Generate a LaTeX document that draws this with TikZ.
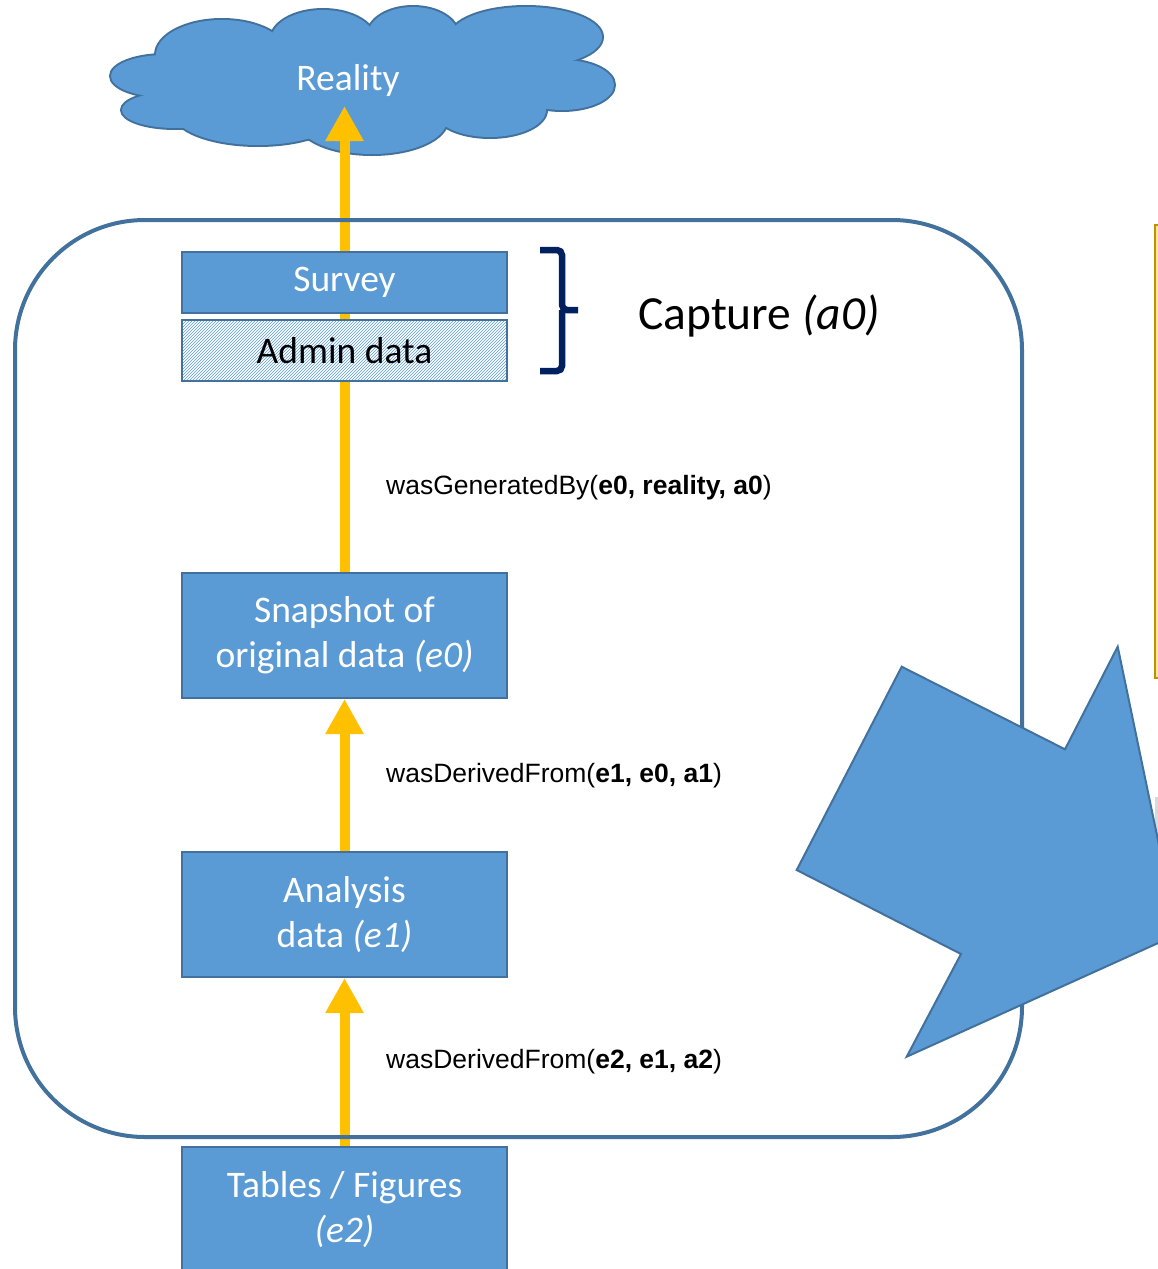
\documentclass[tikz,border=0pt]{standalone}
\usepackage{fontspec}
\setmainfont{Carlito}
\newfontfamily\arialfont{Liberation Sans}
\usetikzlibrary{arrows.meta,patterns}
\definecolor{boxblue}{HTML}{5B9BD5}
\definecolor{edgeblue}{HTML}{41719C}
\definecolor{flowgold}{HTML}{FFC000}
\definecolor{bracenavy}{HTML}{002060}
\definecolor{noteyellow}{HTML}{FFE699}
\definecolor{notegold}{HTML}{BF9000}
\newcommand{\boxfont}{\fontsize{37.5}{45}\selectfont}
\newcommand{\relfont}{\arialfont\fontsize{26.5}{30}\selectfont}
\pgfdeclarelayer{cloudlayer}
\pgfdeclarelayer{flowlayer}
\pgfsetlayers{cloudlayer,flowlayer,main}

\begin{document}
\begin{tikzpicture}[x=1pt,y=-1pt,
		block/.style={draw=edgeblue, line width=2pt, minimum width=325pt, align=center, inner sep=0pt, font=\boxfont},
		entity/.style={block, fill=boxblue, text=white, minimum height=125pt},
		relation/.style={anchor=west, inner sep=0pt, font=\relfont},
		flow/.style={draw=flowgold, line width=10pt, -{Triangle[width=36pt,length=35pt]}},
		frame/.style={draw=edgeblue, line width=4pt, rounded corners=130pt},
		bracket/.style={draw=bracenavy, line width=6.5pt, rounded corners=5pt}]
	\useasboundingbox (0,0) rectangle (1158,1269);
	\begin{scope}
		\clip (0,0) rectangle (1158,1269);
		% reality
		\begin{pgfonlayer}{cloudlayer}
			\foreach \cx/\cy/\rx/\ry in {366/80/200/50, 165/76/54/21, 175/110/53/18, 258/112/85/33, 372/120/75/34, 490/110/56/27, 562/85/52/25, 526/37/76/30, 413/35/45/28, 323/40/52/30, 222/55/66/35}
				\draw[edgeblue, line width=4pt] (\cx,\cy) ellipse [x radius=\rx, y radius=\ry];
			\foreach \cx/\cy/\rx/\ry in {366/80/200/50, 165/76/54/21, 175/110/53/18, 258/112/85/33, 372/120/75/34, 490/110/56/27, 562/85/52/25, 526/37/76/30, 413/35/45/28, 323/40/52/30, 222/55/66/35}
				\fill[boxblue] (\cx,\cy) ellipse [x radius=\rx, y radius=\ry];
			\node[text=white, font=\boxfont, inner sep=0pt] (reality) at (348,81) {Reality};
		\end{pgfonlayer}
		\coordinate (realitytip) at (344.5,106);
		% capture
		\node[entity, minimum height=61pt] (survey) at (344.5,282.5) {Survey};
		\node[block, minimum height=61pt, preaction={fill=white}, pattern=north east lines, pattern color=boxblue] (admin) at (344.5,350.5) {Admin data};
		\draw[bracket] (540,250) -| (562,310) -- (578,310) (562,310) |- (540,371);
		\node[anchor=west, inner sep=0pt, font=\fontsize{47.5}{50}\selectfont] (capture) at (638,316) {Capture \textit{(a0)}};
		% entities
		\node[entity] (e0) at (344.5,635.5) {Snapshot of\\original data \textit{(e0)}};
		\node[entity] (e1) at (344.5,914.5) {Analysis\\data \textit{(e1)}};
		\node[entity] (e2) at (344.5,1209.5) {Tables / Figures\\\textit{(e2)}};
		\node[relation] (genby) at (386,488) {wasGeneratedBy(\textbf{e0, reality, a0})};
		\node[relation] (derA) at (386,776) {wasDerivedFrom(\textbf{e1, e0, a1})};
		\node[relation] (derB) at (386,1062) {wasDerivedFrom(\textbf{e2, e1, a2})};
		\begin{pgfonlayer}{flowlayer}
			\draw[flow] (e2.north) -- (e1.south);
			\draw[flow] (e1.north) -- (e0.south);
			\draw[flow] (e0.north) -- (realitytip);
		\end{pgfonlayer}
		\draw[frame] (15,220) rectangle (1022,1137);
		% right side
		\draw[draw=notegold, fill=noteyellow, line width=2.5pt] (1155,225) rectangle (1190,678);
		\fill[gray!30] (1155,797) rectangle (1190,940);
		\draw[draw=edgeblue, fill=boxblue, line width=2pt, line join=miter] (901.7,666.7) -- (1065,749.3) -- (1117.7,646.7) -- (1177.6,934.2) -- (906.7,1056.7) -- (961,954) -- (796.7,870) -- cycle;
	\end{scope}
\end{tikzpicture}
\end{document}
